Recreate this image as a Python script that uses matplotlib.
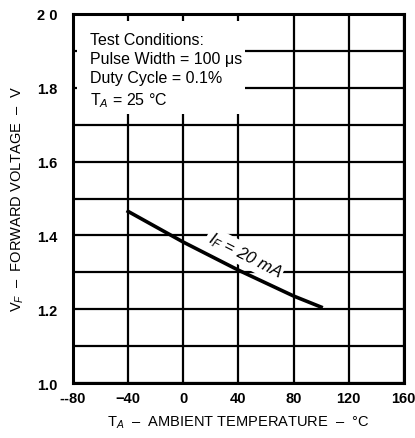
import matplotlib.pyplot as plt
from matplotlib.patches import Rectangle
import numpy as np

# Data (I_F = 20 mA)
temps = [-40, 0, 40, 80, 100]
vf = [1.465, 1.382, 1.306, 1.236, 1.206]

x_ticklabels = ['--80', '\u221240', '0', '40', '80', '120', '160']
y_ticklabels = ['1.0', '1.2', '1.4', '1.6', '1.8', '2 0']

plt.rcParams['font.family'] = ['Liberation Sans', 'DejaVu Sans']
plt.rcParams['mathtext.fontset'] = 'custom'
plt.rcParams['mathtext.rm'] = 'Liberation Sans'
plt.rcParams['mathtext.it'] = 'Liberation Sans:italic'

fig = plt.figure(figsize=(4.15, 4.39), dpi=100)
ax = fig.add_axes([0.176, 0.125, 0.797, 0.841])

ax.set_xlim(-80, 160)
ax.set_ylim(1.0, 2.0)
ax.set_xticks(np.arange(-80, 161, 40))
ax.set_yticks(np.arange(1.0, 2.01, 0.1))
ax.grid(True, color='black', linewidth=1.6)
ax.set_yticklabels([y_ticklabels[i // 2] if i % 2 == 0 else '' for i in range(11)],
                   fontsize=10.5, fontweight='bold')
ax.set_xticklabels(x_ticklabels, fontsize=10.5, fontweight='bold')
ax.tick_params(axis='y', length=0, pad=11)
ax.tick_params(axis='x', length=0, pad=6)
for s in ax.spines.values():
    s.set_linewidth(2.2)

ax.plot(temps, vf, color='black', linewidth=2.6, zorder=3)

ax.text(44.5, 1.347, r'I$_F$ = 20 mA', rotation=-27, fontsize=12, ha='center', va='center',
        style='italic', bbox=dict(facecolor='white', edgecolor='none', pad=1.5), zorder=4)

# white panel behind the test conditions
ax.add_patch(Rectangle((0.012, 0.729), 0.508, 0.253, transform=ax.transAxes,
                       facecolor='white', edgecolor='none', zorder=2.5))
ax.text(-68, 1.952, 'Test Conditions:\nPulse Width = 100 \u03bcs\nDuty Cycle = 0.1%\nT$_A$ = 25 \u00b0C',
        fontsize=11.5, ha='left', va='top', linespacing=1.35, zorder=4)

ax.set_xlabel('T$_A$  \u2013  AMBIENT TEMPERATURE  \u2013  \u00b0C', fontsize=10.5, labelpad=6)
ax.set_ylabel('V$_F$  \u2013  FORWARD VOLTAGE  \u2013  V', fontsize=10.5, labelpad=8)

fig.savefig('out.png', dpi=100)
